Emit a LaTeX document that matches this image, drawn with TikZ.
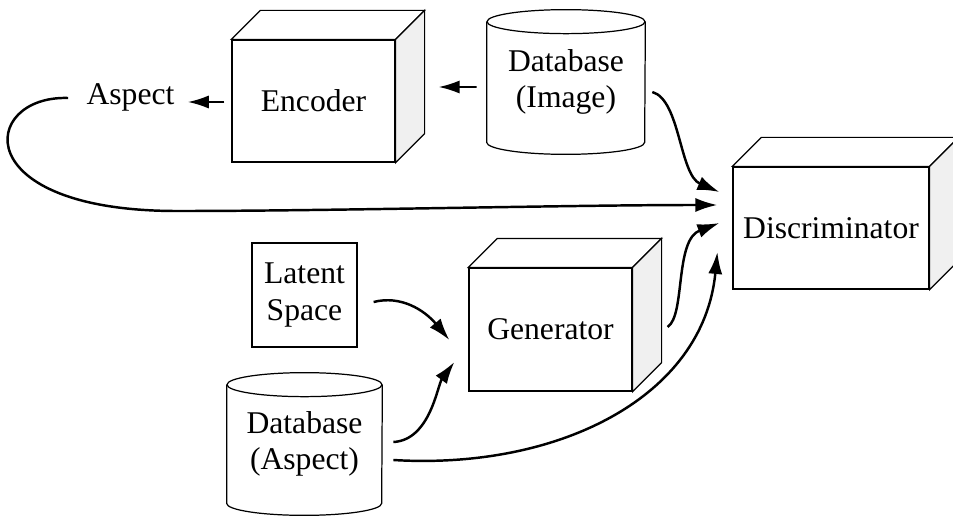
\documentclass[tikz,border=0pt]{standalone}
\usepackage{fontspec}
\setmainfont{Liberation Serif}
\usepackage{tikz}
\usetikzlibrary{arrows.meta,calc}
\tikzstyle{box}=[draw, fill=white, line width=0.7pt, minimum height=2.44cm,
                 font=\fontsize{18}{20.5}\selectfont, align=center, inner sep=0]
\tikzstyle{db}=[minimum height=2.4cm, font=\fontsize{18}{20.5}\selectfont,
                align=center, inner sep=0]
\tikzstyle{cubeside}=[draw, line width=0.7pt, fill=gray!12]
\tikzstyle{cubetop}=[draw, line width=0.7pt, fill=white]
\tikzstyle{flow}=[line width=1.4pt, -{Latex[length=12.5pt,width=8pt]}]
\tikzstyle{tick}=[line width=1.1pt, -{Latex[length=12pt,width=7.5pt]}]
% depth faces of a box node
\newcommand{\cube}[1]{%
  \path[cubetop] (#1.north west) -- ++(0.58,0.58) -- ($(#1.north east)+(0.58,0.58)$)
    -- (#1.north east) -- cycle;
  \path[cubeside] (#1.north east) -- ++(0.58,0.58) -- ($(#1.south east)+(0.58,0.58)$)
    -- (#1.south east) -- cycle;}
% cylinder round a text node
\newcommand{\drum}[2]{%
  \draw[line width=0.7pt] (#1.north) ellipse [x radius=#2, y radius=0.24];
  \draw[line width=0.7pt] (#1.north west) -- (#1.south west)
    arc[start angle=180, end angle=360, x radius=#2, y radius=0.24] -- (#1.north east);}

\begin{document}
\begin{tikzpicture}
\useasboundingbox (0,0) rectangle (19.06,10.3);
\node[box, minimum width=3.26cm] (enc) at (6.27,8.28) {Encoder};
\node[box, minimum width=3.26cm, minimum height=2.46cm] (gen) at (11.01,3.71) {Generator};
\node[box, minimum width=3.92cm] (disc) at (16.62,5.74) {Discriminator};
\node[box, minimum width=2.1cm, minimum height=2.08cm] (lat) at (6.09,4.4) {Latent\\Space};
\node[db, minimum width=3.16cm] (dbi) at (11.32,8.66) {Database\\(Image)};
\node[db, minimum width=3.1cm, minimum height=2.36cm] (dba) at (6.09,1.42) {Database\\(Aspect)};
\node[font=\fontsize{18}{20.5}\selectfont, inner sep=0] (asp) at (2.61,8.36) {Aspect};
\cube{enc}
\cube{gen}
\cube{disc}
\drum{dbi}{1.58}
\drum{dba}{1.55}

\coordinate (d1) at ($(disc.west)+(-0.26,0.72)$);
\coordinate (d2) at ($(disc.west)+(-0.3,0.46)$);
\coordinate (d3) at ($(disc.west)+(-0.26,0.1)$);
\coordinate (d4) at ($(disc.west)+(-0.3,-0.48)$);
\coordinate (g1) at ($(gen.west)+(-0.38,-0.21)$);
\coordinate (g2) at ($(gen.west)+(-0.28,-0.65)$);

\draw[tick] ($(dbi.west)+(-0.2,-0.1)$) -- ($(enc.east)+(0.86,0.28)$);
\draw[tick] ($(enc.west)+(-0.14,-0.02)$) -- ($(asp.east)+(0.26,-0.1)$);

\draw[flow] ($(asp.west)+(-0.36,-0.02)$) .. controls +(-1.76,0.06) and +(-4.3,-0.02) .. (3.6,6.08)
  .. controls +(3,0) and +(-3,0) .. (d2);
\draw[flow] ($(dbi.east)+(0.14,-0.2)$) .. controls +(0.56,-0.16) and +(-0.8,0.34) .. (d1);
\draw[flow] ($(gen.east)+(0.7,0.05)$) .. controls +(0.36,0.24) and +(-0.9,-0.34) .. (d3);
\draw[flow] ($(dba.east)+(0.22,-0.32)$) .. controls +(3.3,-0.2) and +(-0.28,-2.9) .. (d4);
\draw[flow] ($(dba.east)+(0.22,0.04)$) .. controls +(0.74,0.04) and +(-0.34,-0.46) .. (g2);
\draw[flow] ($(lat.east)+(0.32,-0.14)$) .. controls +(0.54,0.14) and +(-0.5,0.6) .. (g1);
\end{tikzpicture}
\end{document}
